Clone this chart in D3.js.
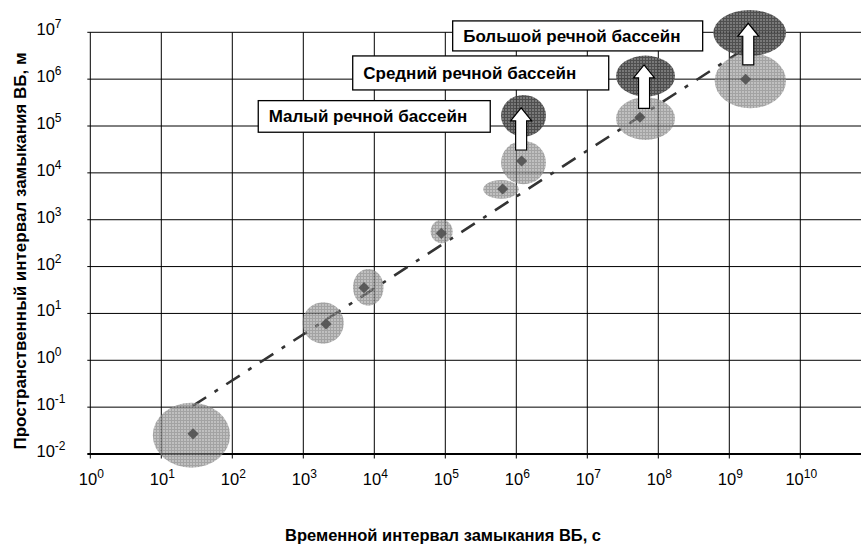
<!DOCTYPE html>
<html>
<head>
<meta charset="utf-8">
<script src="https://cdn.jsdelivr.net/npm/d3@7"></script>
<style>
  html, body { margin: 0; padding: 0; background: #fff; }
  svg { display: block; font-family: "Liberation Sans", Arial, sans-serif; }
</style>
</head>
<body>
<svg id="chart" width="861" height="545"></svg>
<script>
// ---------- data ----------
const xTickExps = [0, 1, 2, 3, 4, 5, 6, 7, 8, 9, 10];
const yTickExps = [-2, -1, 0, 1, 2, 3, 4, 5, 6, 7];

// measured points: time interval (s) and spatial interval (m)
const pointT = [28, 2090, 7160, 87900, 643000, 1.19e6, 5.52e7, 1.70e9];
const pointL = [0.027, 5.96, 35.5, 513, 4530, 17900, 153800, 995000];

// uncertainty ellipses (ranges) around the points
const ellipseTRange = [[7.6, 93], [977, 3715], [5010, 13500], [62200, 127000],
                       [343000, 1.08e6], [6.1e5, 2.62e6], [2.54e7, 1.72e8], [6.22e8, 6.3e9]];
const ellipseLRange = [[0.0051, 0.124], [2.26, 17.3], [14.6, 88.9], [314, 1000],
                       [2810, 7050], [5720, 48000], [50400, 4.11e5], [2.39e5, 3.57e6]];

// river basin (dark) ellipses
const basinTRange = [[6.1e5, 2.62e6], [2.54e7, 1.72e8], [5.96e8, 6.3e9]];
const basinLRange = [[59300, 4.6e5], [4.24e5, 3.18e6], [3.13e6, 3.0e7]];
const basinLabels = ["Малый речной бассейн", "Средний речной бассейн", "Большой речной бассейн"];

// arrows from measured ellipse to basin ellipse
const arrowT = [1.17e6, 6.3e7, 1.85e9];
const arrowFrom = [30800, 2.39e5, 2.01e6];
const arrowTo = [2.45e5, 2.01e6, 1.56e7];

// trend line
const trendT = [27.7, 1.83e9];
const trendL = [0.106, 4.94e6];

const xTitle = "Временной интервал замыкания ВБ, с";
const yTitle = "Пространственный интервал замыкания ВБ, м";

// ---------- layout ----------
const W = 861, H = 545;
const plot = { left: 90.3, right: 871.3, top: 32.3, bottom: 454 };
// label boxes anchored in data coordinates (left/top), size in px
const labelLayout = [
  { t: 232, l: 3.48e5, w: 232, h: 31.6 },
  { t: 4966, l: 3.13e6, w: 256, h: 34 },
  { t: 1.27e5, l: 1.75e7, w: 250, h: 30 }
];

const svg = d3.select("#chart");
const x = d3.scaleLog().domain([1, 1e11]).range([plot.left, plot.right]);
const y = d3.scaleLog().domain([1e-2, 1e7]).range([plot.bottom, plot.top]);

// patterns
const defs = svg.append("defs");
function makePattern(id, base, line) {
  const p = defs.append("pattern").attr("id", id)
    .attr("patternUnits", "userSpaceOnUse").attr("width", 3).attr("height", 3);
  p.append("rect").attr("width", 3).attr("height", 3).attr("fill", base);
  p.append("rect").attr("width", 3).attr("height", 1).attr("fill", line);
  p.append("rect").attr("width", 1).attr("height", 3).attr("fill", line);
}
makePattern("lightTex", "#a0a0a0", "#747474");
makePattern("darkTex", "#6e6e6e", "#404040");

// grid
const grid = svg.append("g");
grid.selectAll(".vg").data(xTickExps.filter(e => e > 0)).join("line")
  .attr("x1", e => x(Math.pow(10, e))).attr("x2", e => x(Math.pow(10, e)))
  .attr("y1", plot.top).attr("y2", plot.bottom)
  .attr("stroke", "#000").attr("stroke-width", 1);
grid.selectAll(".hg").data(yTickExps.filter(e => e > -2)).join("line")
  .attr("x1", plot.left - 3).attr("x2", W)
  .attr("y1", e => y(Math.pow(10, e))).attr("y2", e => y(Math.pow(10, e)))
  .attr("stroke", "#000").attr("stroke-width", 1);
// axes lines
svg.append("line").attr("x1", plot.left).attr("x2", plot.left)
  .attr("y1", plot.top).attr("y2", plot.bottom).attr("stroke", "#000").attr("stroke-width", 1);
svg.append("line").attr("x1", plot.left - 3).attr("x2", W)
  .attr("y1", plot.bottom).attr("y2", plot.bottom).attr("stroke", "#000").attr("stroke-width", 2);
// x ticks
svg.selectAll(".xt").data(xTickExps).join("line")
  .attr("x1", e => x(Math.pow(10, e))).attr("x2", e => x(Math.pow(10, e)))
  .attr("y1", plot.bottom).attr("y2", plot.bottom + 4.5)
  .attr("stroke", "#000").attr("stroke-width", 1);

// tick labels
const xl = svg.selectAll(".xl").data(xTickExps).join("text")
  .attr("x", e => x(Math.pow(10, e)) + 1).attr("y", 485)
  .attr("text-anchor", "middle").attr("font-size", 16.5).attr("fill", "#000");
xl.append("tspan").text("10");
xl.append("tspan").attr("dy", -7).attr("font-size", 12).text(e => String(e));

const yl = svg.selectAll(".yl").data(yTickExps).join("text")
  .attr("x", 36.5).attr("y", e => y(Math.pow(10, e)) + 3)
  .attr("text-anchor", "start").attr("font-size", 16.5).attr("fill", "#000");
yl.append("tspan").text("10");
yl.append("tspan").attr("dy", -7).attr("font-size", 12).text(e => String(e));

// trend line
svg.append("line")
  .attr("x1", x(trendT[0])).attr("y1", y(trendL[0]))
  .attr("x2", x(trendT[1])).attr("y2", y(trendL[1]))
  .attr("stroke", "#333").attr("stroke-width", 2.6)
  .attr("stroke-dasharray", "16,10,4,10");

// light ellipses
function ell(tr, lr) {
  const x0 = x(tr[0]), x1 = x(tr[1]), y0 = y(lr[0]), y1 = y(lr[1]);
  return { cx: (x0 + x1) / 2, cy: (y0 + y1) / 2, rx: Math.abs(x1 - x0) / 2, ry: Math.abs(y1 - y0) / 2 };
}
svg.selectAll(".el").data(ellipseTRange.map((tr, i) => ell(tr, ellipseLRange[i]))).join("ellipse")
  .attr("cx", d => d.cx).attr("cy", d => d.cy).attr("rx", d => d.rx).attr("ry", d => d.ry)
  .attr("fill", "url(#lightTex)").attr("fill-opacity", 0.66);

// diamonds
const diamond = d3.symbol().type(d3.symbolDiamond2).size(80);
svg.selectAll(".pt").data(pointT.map((t, i) => [t, pointL[i]])).join("path")
  .attr("d", diamond)
  .attr("transform", d => `translate(${x(d[0])},${y(d[1])})`)
  .attr("fill", "#505050").attr("fill-opacity", 0.9);

// dark ellipses
svg.selectAll(".bl").data(basinTRange.map((tr, i) => ell(tr, basinLRange[i]))).join("ellipse")
  .attr("cx", d => d.cx).attr("cy", d => d.cy).attr("rx", d => d.rx).attr("ry", d => d.ry)
  .attr("fill", "url(#darkTex)").attr("fill-opacity", 0.92);

// arrows
const shaftW = 11, headW = 21, headL = 13;
svg.selectAll(".ar").data(arrowT.map((t, i) => [t, arrowFrom[i], arrowTo[i]])).join("path")
  .attr("d", d => {
    const cx = x(d[0]), yb = y(d[1]), yt = y(d[2]);
    const hb = yt + headL;
    return `M${cx - shaftW / 2},${yb} L${cx - shaftW / 2},${hb} L${cx - headW / 2},${hb} L${cx},${yt} ` +
           `L${cx + headW / 2},${hb} L${cx + shaftW / 2},${hb} L${cx + shaftW / 2},${yb} Z`;
  })
  .attr("fill", "#fff").attr("stroke", "#000").attr("stroke-width", 1.2).attr("stroke-linejoin", "miter");

// label boxes
const lb = svg.selectAll(".lb").data(labelLayout.map((L, i) => ({ ...L, text: basinLabels[i] }))).join("g")
  .attr("transform", d => `translate(${x(d.t)},${y(d.l)})`);
lb.append("rect").attr("width", d => d.w).attr("height", d => d.h)
  .attr("fill", "#fff").attr("stroke", "#000").attr("stroke-width", 1.3);
lb.append("text").attr("x", 10.5).attr("y", d => d.h / 2 + 6)
  .attr("font-size", 17).attr("font-weight", "bold").attr("fill", "#000")
  .text(d => d.text);

// axis titles
svg.append("text").attr("x", 443).attr("y", 541)
  .attr("text-anchor", "middle").attr("font-size", 16.5).attr("font-weight", "bold")
  .text(xTitle);
svg.append("text").attr("transform", "translate(26,251) rotate(-90)")
  .attr("text-anchor", "middle").attr("font-size", 17).attr("font-weight", "bold")
  .text(yTitle);
</script>
</body>
</html>
